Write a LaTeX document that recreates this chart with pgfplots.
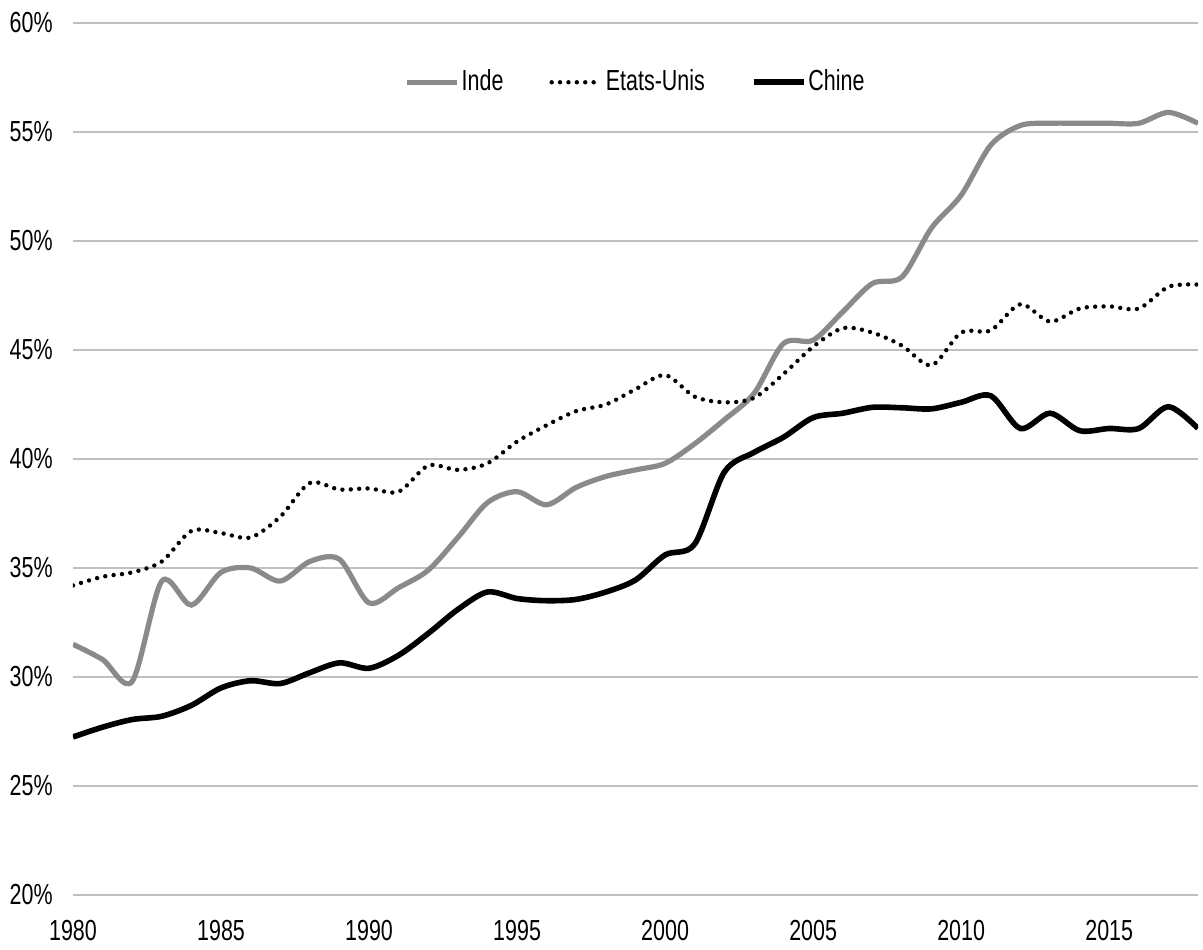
\documentclass[border=0pt]{standalone}
\usepackage{fontspec}
\setmainfont{Liberation Sans}[FakeStretch=0.74]
\usepackage{pgfplots}
\pgfplotsset{compat=1.18}
\definecolor{indegray}{RGB}{138,138,138}
\definecolor{gridgray}{RGB}{192,192,192}
\begin{document}
\fontsize{14.5}{17}\selectfont
\begin{tikzpicture}
\begin{axis}[
  scale only axis, width=562.5pt, height=436pt,
  xmin=1980, xmax=2018, ymin=20, ymax=60,
  xtick={1980,1985,...,2015}, ytick={20,25,...,60},
  ymajorgrids, grid style={draw=gridgray, line width=1pt},
  axis line style={draw=none}, major tick length=0pt,
  /pgf/number format/1000 sep={},
  /pgf/number format/assume math mode=true,
  tick label style={font=\fontsize{14.5}{17}\selectfont},
  xticklabel style={anchor=center, inner sep=0pt, yshift=-18pt},
  yticklabel={\pgfmathprintnumber{\tick}\%},
  yticklabel style={anchor=east, inner sep=0pt, xshift=-10pt},
  legend style={draw=none, fill=none, at={(0.5,0.932)}, anchor=center,
    legend columns=3, font=\fontsize{14.5}{17}\selectfont,
    nodes={inner sep=1pt},
    /tikz/every odd column/.append style={column sep=0pt},
    /tikz/every even column/.append style={column sep=22pt}},
  legend image code/.code={\draw[#1] (0pt,0pt) -- (25pt,0pt);},
]
\addplot[indegray, line width=2.6pt, smooth] coordinates {
(1980,31.5)(1981,30.8)(1982,29.8)(1983,34.4)(1984,33.3)(1985,34.8)(1986,35.0)(1987,34.4)(1988,35.3)(1989,35.4)
(1990,33.4)(1991,34.1)(1992,34.9)(1993,36.4)(1994,38.0)(1995,38.5)(1996,37.9)(1997,38.7)(1998,39.2)(1999,39.5)
(2000,39.8)(2001,40.7)(2002,41.8)(2003,43.0)(2004,45.3)(2005,45.45)(2006,46.75)(2007,48.05)(2008,48.35)(2009,50.6)
(2010,52.1)(2011,54.4)(2012,55.3)(2013,55.4)(2014,55.4)(2015,55.4)(2016,55.4)(2017,55.9)(2018,55.4)};
\addlegendentry{Inde}
\addplot[black, line width=2.2pt, line cap=round, dash pattern=on 0pt off 4.2pt, smooth] coordinates {
(1980,34.2)(1981,34.6)(1982,34.8)(1983,35.3)(1984,36.7)(1985,36.6)(1986,36.4)(1987,37.35)(1988,38.9)(1989,38.6)
(1990,38.65)(1991,38.5)(1992,39.7)(1993,39.5)(1994,39.8)(1995,40.8)(1996,41.55)(1997,42.2)(1998,42.5)(1999,43.2)
(2000,43.85)(2001,42.86)(2002,42.6)(2003,42.8)(2004,43.9)(2005,45.15)(2006,46.0)(2007,45.8)(2008,45.2)(2009,44.3)
(2010,45.8)(2011,45.9)(2012,47.1)(2013,46.3)(2014,46.9)(2015,47.0)(2016,46.9)(2017,47.9)(2018,48.0)};
\addlegendentry{Etats-Unis}
\addplot[black, line width=2.8pt, smooth] coordinates {
(1980,27.25)(1981,27.7)(1982,28.05)(1983,28.2)(1984,28.7)(1985,29.5)(1986,29.83)(1987,29.7)(1988,30.2)(1989,30.65)
(1990,30.4)(1991,31.0)(1992,32.0)(1993,33.1)(1994,33.9)(1995,33.6)(1996,33.5)(1997,33.56)(1998,33.9)(1999,34.45)
(2000,35.6)(2001,36.1)(2002,39.4)(2003,40.3)(2004,41.0)(2005,41.9)(2006,42.1)(2007,42.37)(2008,42.35)(2009,42.3)
(2010,42.6)(2011,42.9)(2012,41.4)(2013,42.1)(2014,41.3)(2015,41.4)(2016,41.4)(2017,42.4)(2018,41.4)};
\addlegendentry{Chine}
\end{axis}
\pgfresetboundingbox
\path ([shift={(-36.5pt,-27pt)}]current axis.south west) rectangle ([shift={(2.5pt,11.5pt)}]current axis.north east);
\end{tikzpicture}
\end{document}
